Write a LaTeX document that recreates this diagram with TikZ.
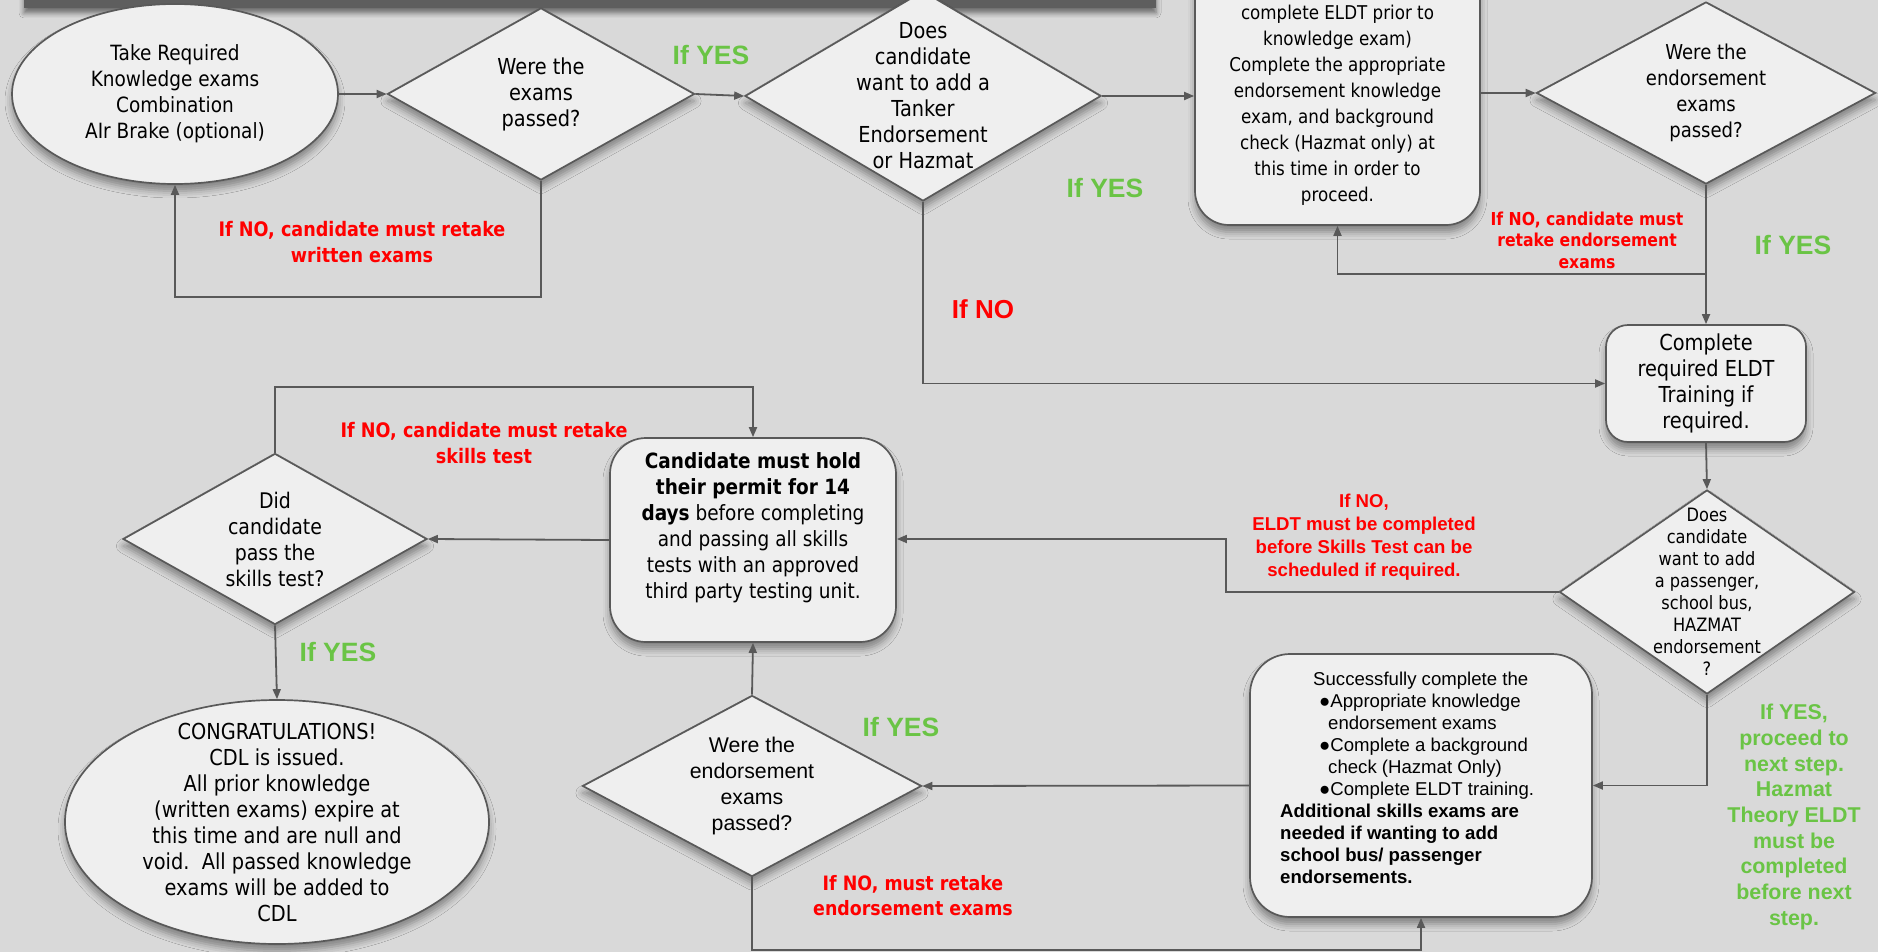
\documentclass[tikz,border=0pt]{standalone}
\usepackage{fontspec}
\setmainfont{DejaVu Sans}[FakeStretch=0.88]
\newfontfamily\arialf{Liberation Sans}
\usetikzlibrary{shapes.geometric,arrows.meta,shadows.blur,calc}
\definecolor{bg}{HTML}{D9D9D9}
\definecolor{shapefill}{HTML}{EFEFEF}
\definecolor{edgegray}{HTML}{595959}
\definecolor{barcol}{HTML}{5E5E5E}
\definecolor{nored}{HTML}{FF0000}
\definecolor{yesgreen}{HTML}{6AC445}
\tikzset{
  base/.style={draw=edgegray, line width=1.7pt, fill=shapefill, inner sep=0pt,
    blur shadow={shadow xshift=0pt, shadow yshift=-7pt, shadow blur radius=7pt, shadow opacity=40}},
  decision/.style={base, diamond},
  oval/.style={base, ellipse},
  rbox/.style={base, rectangle, rounded corners=#1},
  txt/.style={align=center, inner sep=0pt, font=\fontsize{21}{26}\selectfont},
  arr/.style={draw=edgegray, line width=1.8pt, -{Triangle[length=10pt,width=8pt]}},
  bigyes/.style={text=yesgreen, inner sep=0pt, font=\arialf\bfseries\fontsize{26.5}{30}\selectfont},
  bigno/.style={text=nored, inner sep=0pt, font=\arialf\bfseries\fontsize{26}{30}\selectfont},
  redlab/.style={text=nored, align=center, inner sep=0pt, font=\bfseries\fontsize{20}{26}\selectfont},
}
\begin{document}
\begin{tikzpicture}[x=1pt,y=-1pt]
\path[use as bounding box, fill=bg] (0,0) rectangle (1878,952);
\clip (0,0) rectangle (1878,952);
% cropped title bar
\fill[barcol, blur shadow={shadow xshift=0pt, shadow yshift=-5pt, shadow blur radius=5pt, shadow opacity=50}] (24,-30) rectangle (1156,8);

% row 1
\node[oval, minimum width=326pt, minimum height=180pt] (e1) at (175,94) {};
\node[txt] (t1) at (e1) {Take Required\\Knowledge exams\\Combination\\AIr Brake (optional)};

\node[decision, minimum width=307pt, minimum height=172pt] (d1) at (541,94) {};
\node[txt, font=\fontsize{22}{26}\selectfont] (t2) at (d1) {Were the\\exams\\passed?};

\node[decision, minimum width=356pt, minimum height=210pt] (d2) at (923,96) {};
\node[txt, font=\fontsize{22}{26}\selectfont] (t3) at (d2) {Does\\candidate\\want to add a\\Tanker\\Endorsement\\or Hazmat};

\node[rbox=34pt, minimum width=285pt, minimum height=300pt] (b1) at (1337.5,75) {};
\node[txt, font=\fontsize{19}{26}\selectfont] (t4) at (1337.5,105) {complete ELDT prior to\\knowledge exam)\\Complete the appropriate\\endorsement knowledge\\exam, and background\\check (Hazmat only) at\\this time in order to\\proceed.};

\node[decision, minimum width=339pt, minimum height=182pt] (d3) at (1706,93) {};
\node[txt, font=\fontsize{20.5}{26}\selectfont] (t5) at (d3) {Were the\\endorsement\\exams\\passed?};

% right column
\node[rbox=22pt, minimum width=200pt, minimum height=117pt] (b2) at (1706,383.5) {};
\node[txt, font=\fontsize{22}{26}\selectfont] (t6) at (b2) {Complete\\required ELDT\\Training if\\required.};

\node[decision, minimum width=295pt, minimum height=204pt] (d4) at (1707,592) {};
\node[txt, font=\fontsize{18.4}{22}\selectfont] (t7) at (d4) {Does\\candidate\\want to add\\a passenger,\\school bus,\\HAZMAT\\endorsement\\?};

\node[rbox=40pt, minimum width=342pt, minimum height=263pt] (b3) at (1421,785.5) {};
\node[inner sep=0pt, anchor=north west, align=left, font=\arialf\fontsize{18.6}{22}\selectfont] (t8) at (1280,672) {%
\hspace*{33pt}Successfully complete the\\
\hspace*{39pt}●Appropriate knowledge\\
\hspace*{48pt}endorsement exams\\
\hspace*{39pt}●Complete a background\\
\hspace*{48pt}check (Hazmat Only)\\
\hspace*{39pt}●Complete ELDT training.\\
\textbf{Additional skills exams are}\\
\textbf{needed if wanting to add}\\
\textbf{school bus/ passenger}\\
\textbf{endorsements.}};

% middle / bottom
\node[decision, minimum width=339pt, minimum height=181pt] (d5) at (752,786) {};
\node[txt, font=\arialf\fontsize{21.3}{26}\selectfont] (t9) at (d5) {Were the\\endorsement\\exams\\passed?};

\node[rbox=36pt, minimum width=286pt, minimum height=204pt] (b4) at (753,540) {};
\node[txt] (t10) at (753,528) {\textbf{Candidate must hold}\\\textbf{their permit for 14}\\\textbf{days} before completing\\and passing all skills\\tests with an approved\\third party testing unit.};

\node[decision, minimum width=304pt, minimum height=171pt] (d6) at (275,539) {};
\node[txt, font=\fontsize{21.5}{26}\selectfont] (t11) at (d6) {Did\\candidate\\pass the\\skills test?};

\node[oval, minimum width=424pt, minimum height=244pt] (e2) at (277,822) {};
\node[txt, font=\fontsize{22}{26}\selectfont] (t12) at (e2) {CONGRATULATIONS!\\CDL is issued.\\All prior knowledge\\(written exams) expire at\\this time and are null and\\void.\ \ All passed knowledge\\exams will be added to\\CDL};

% helper coordinates
\coordinate (c1) at (1706,274);
\coordinate (c2) at (541,297);
\coordinate (c3) at (1226,539);
\coordinate (c4) at (752,950);
\coordinate (c5) at (275,387);

% connectors
\draw[arr] (e1.east) -- (d1.west);
\draw[arr] (d1.east) -- (d2.west);
\draw[arr] (d2.east) -- (d2.east -| b1.west);
\draw[arr] (b1.east |- d3.west) -- (d3.west);
\draw[arr] (d3.south) -- (c1) -| (b1.south);
\draw[arr] (c1) -- (b2.north);
\draw[arr] (d1.south) -- (c2) -| (e1.south);
\draw[arr] (d2.south) |- (b2.west);
\draw[arr] (b2.south) -- (d4.north);
\draw[arr] (d4.west) -| (c3) -- (c3 -| b4.east);
\draw[arr] (d4.south) |- (b3.east);
\draw[arr] (b3.west) -- (d5.east);
\draw[arr] (d5.north) -- (b4.south);
\draw[arr] (d5.south) -- (c4) -| (b3.south);
\draw[arr] (b4.west) -- (d6.east);
\draw[arr] (d6.north) -- (c5) -| (b4.north);
\draw[arr] (d6.south) -- (e2.north);

% labels
\node[bigyes] (y1) at (711,55) {If YES};
\node[bigyes] (y2) at (1105,188) {If YES};
\node[bigno] (n1) at (983,309) {If NO};
\node[redlab] (n2) at (362,242) {If NO, candidate must retake\\written exams};
\node[redlab, font=\bfseries\fontsize{17.8}{21.5}\selectfont] (n3) at (1587,240) {If NO, candidate must\\retake endorsement\\exams};
\node[bigyes] (y3) at (1793,245) {If YES};
\node[text=nored, align=center, inner sep=0pt, font=\arialf\bfseries\fontsize{18.6}{23}\selectfont] (n4) at (1364,537) {If NO,\\ELDT must be completed\\before Skills Test can be\\scheduled if required.};
\node[text=yesgreen, align=center, inner sep=0pt, font=\arialf\bfseries\fontsize{21.4}{25.7}\selectfont] (y4) at (1794,817) {If YES,\\proceed to\\next step.\\Hazmat\\Theory ELDT\\must be\\completed\\before next\\step.};
\node[redlab] (n5) at (484,443) {If NO, candidate must retake\\skills test};
\node[bigyes] (y5) at (338,652) {If YES};
\node[bigyes] (y6) at (901,727) {If YES};
\node[redlab, font=\bfseries\fontsize{19.8}{25}\selectfont] (n6) at (913,896) {If NO, must retake\\endorsement exams};
\end{tikzpicture}
\end{document}
